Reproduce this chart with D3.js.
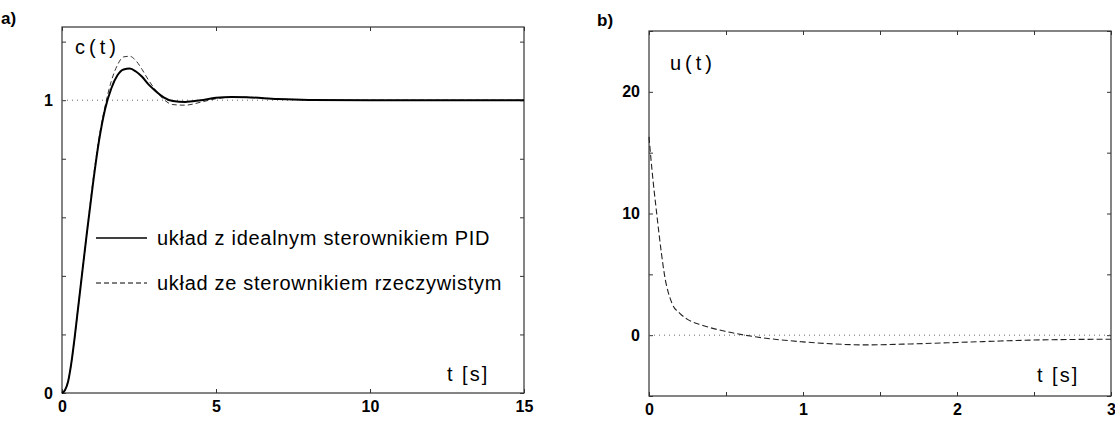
<!DOCTYPE html>
<html>
<head>
<meta charset="utf-8">
<script src="https://cdn.jsdelivr.net/npm/d3@7"></script>
<style>
  body { margin: 0; background: #fff; }
  svg { font-family: "Liberation Sans", Arial, sans-serif; }
</style>
</head>
<body>
<svg id="chart" width="1115" height="423"></svg>
<script>
// panel a) - step response c(t)
var tA = [0, 0.1, 0.2, 0.3, 0.4, 0.5, 0.6, 0.8, 1.0, 1.2, 1.4, 1.6, 1.8, 2.0, 2.2, 2.4, 2.6, 2.8, 3.0, 3.3, 3.6, 4.0, 4.5, 5.0, 5.5, 6, 7, 8, 10, 12, 15];
var cIdeal = [0, 0.01, 0.04, 0.1, 0.18, 0.27, 0.36, 0.54, 0.71, 0.86, 0.97, 1.04, 1.085, 1.105, 1.108, 1.098, 1.08, 1.055, 1.035, 1.01, 0.997, 0.994, 1.0, 1.008, 1.011, 1.01, 1.004, 1.001, 1.0, 1.0, 1.0];
var cReal = [0, 0.01, 0.04, 0.1, 0.18, 0.27, 0.36, 0.54, 0.72, 0.87, 0.98, 1.065, 1.12, 1.148, 1.15, 1.135, 1.105, 1.07, 1.04, 1.003, 0.985, 0.983, 0.993, 1.005, 1.01, 1.01, 1.004, 1.001, 1.0, 1.0, 1.0];
var xTicksA = [0, 5, 10, 15];
var yTicksA = [0, 0.2, 0.4, 0.6, 0.8, 1.0, 1.2];
var yLabelsA = [0, 1];

// panel b) - control signal u(t)
var tB = [0, 0.02, 0.05, 0.08, 0.1, 0.15, 0.2, 0.25, 0.35, 0.5, 0.7, 1.0, 1.2, 1.4, 1.7, 2.0, 2.5, 3.0];
var uReal = [16.3, 13.5, 10, 6.8, 5, 2.6, 1.8, 1.3, 0.8, 0.3, -0.15, -0.55, -0.72, -0.8, -0.72, -0.6, -0.4, -0.33];
var xTicksB = [0, 0.5, 1, 1.5, 2, 2.5, 3];
var xLabelsB = [0, 1, 2, 3];
var yTicksB = [-5, 0, 5, 10, 15, 20, 25];
var yLabelsB = [0, 10, 20];

var legendNames = ['układ z idealnym sterownikiem PID', 'układ ze sterownikiem rzeczywistym'];

var svg = d3.select('#chart');

function panel(box, xDom, yDom, xTicks, xLabels, yTicks, yLabels) {
  var x = d3.scaleLinear().domain(xDom).range([box.x0, box.x1]);
  var y = d3.scaleLinear().domain(yDom).range([box.y1, box.y0]);
  var g = svg.append('g');

  // frame
  g.append('rect')
    .attr('x', box.x0).attr('y', box.y0)
    .attr('width', box.x1 - box.x0).attr('height', box.y1 - box.y0)
    .attr('fill', 'none').attr('stroke', '#333').attr('stroke-width', 1.2);

  function fmt(list) {
    return function(d) { return list.indexOf(d) >= 0 ? d : ''; };
  }

  var ax = [
    d3.axisBottom(x).tickValues(xTicks).tickSize(-4).tickPadding(8).tickFormat(fmt(xLabels)),
    d3.axisTop(x).tickValues(xTicks).tickSize(-4).tickFormat(''),
    d3.axisLeft(y).tickValues(yTicks).tickSize(-4).tickPadding(9).tickFormat(fmt(yLabels)),
    d3.axisRight(y).tickValues(yTicks).tickSize(-4).tickFormat('')
  ];
  var tr = ['translate(0,' + box.y1 + ')', 'translate(0,' + box.y0 + ')',
            'translate(' + box.x0 + ',0)', 'translate(' + box.x1 + ',0)'];
  ax.forEach(function(a, i) {
    var ag = g.append('g').attr('transform', tr[i]).call(a);
    ag.select('.domain').remove();
    ag.selectAll('line').attr('stroke', '#333');
    ag.selectAll('text')
      .attr('fill', '#000')
      .style('font-size', '16px')
      .style('font-weight', 'bold')
      .style('font-family', '"Liberation Sans", Arial, sans-serif');
  });
  return { x: x, y: y, g: g };
}

// ---- panel a ----
var boxA = { x0: 62, x1: 524, y0: 27, y1: 393 };
var pa = panel(boxA, [0, 15], [0, 1.25], xTicksA, xTicksA, yTicksA, yLabelsA);

pa.g.append('line')
  .attr('x1', pa.x(0)).attr('x2', pa.x(15))
  .attr('y1', pa.y(1)).attr('y2', pa.y(1))
  .attr('stroke', '#666').attr('stroke-width', 1)
  .attr('stroke-dasharray', '1,4');

var lineA = function(vals) {
  return d3.line()
    .x(function(d, i) { return pa.x(tA[i]); })
    .y(function(d) { return pa.y(d); })
    .curve(d3.curveMonotoneX)(vals);
};

pa.g.append('path').attr('d', lineA(cReal))
  .attr('fill', 'none').attr('stroke', '#333').attr('stroke-width', 1)
  .attr('stroke-dasharray', '5,3');
pa.g.append('path').attr('d', lineA(cIdeal))
  .attr('fill', 'none').attr('stroke', '#000').attr('stroke-width', 2);

// legend
var leg = pa.g.selectAll('.leg').data(legendNames).enter().append('g')
  .attr('transform', function(d, i) { return 'translate(96,' + (238 + i * 45) + ')'; });
leg.append('line')
  .attr('x1', 0).attr('x2', 51).attr('y1', 0).attr('y2', 0)
  .attr('stroke', '#000')
  .attr('stroke-width', function(d, i) { return i == 0 ? 1.3 : 1; })
  .attr('stroke-dasharray', function(d, i) { return i == 0 ? null : '5,3'; });
leg.append('text')
  .attr('x', 61).attr('y', 7)
  .style('font-size', '20px').style('letter-spacing', '0.7px')
  .text(function(d) { return d; });

pa.g.append('text').attr('x', 75).attr('y', 54)
  .style('font-size', '20px').style('letter-spacing', '4px')
  .text('c(t)');
pa.g.append('text').attr('x', 447).attr('y', 381)
  .style('font-size', '20px').style('letter-spacing', '2px')
  .text('t [s]');
svg.append('text').attr('x', 1).attr('y', 24)
  .style('font-size', '17px').style('font-weight', 'bold')
  .text('a)');

// ---- panel b ----
var boxB = { x0: 649, x1: 1111, y0: 31, y1: 396 };
var pb = panel(boxB, [0, 3], [-5, 25], xTicksB, xLabelsB, yTicksB, yLabelsB);

pb.g.append('line')
  .attr('x1', pb.x(0)).attr('x2', pb.x(3))
  .attr('y1', pb.y(0)).attr('y2', pb.y(0))
  .attr('stroke', '#666').attr('stroke-width', 1)
  .attr('stroke-dasharray', '1,4');

var lineB = d3.line()
  .x(function(d, i) { return pb.x(tB[i]); })
  .y(function(d) { return pb.y(d); })
  .curve(d3.curveMonotoneX);

pb.g.append('path').attr('d', lineB(uReal))
  .attr('fill', 'none').attr('stroke', '#222').attr('stroke-width', 1.1)
  .attr('stroke-dasharray', '6,3');

pb.g.append('text').attr('x', 670).attr('y', 70)
  .style('font-size', '20px').style('letter-spacing', '4px')
  .text('u(t)');
pb.g.append('text').attr('x', 1037).attr('y', 382)
  .style('font-size', '20px').style('letter-spacing', '2px')
  .text('t [s]');
svg.append('text').attr('x', 597).attr('y', 26)
  .style('font-size', '17px').style('font-weight', 'bold')
  .text('b)');
</script>
</body>
</html>
